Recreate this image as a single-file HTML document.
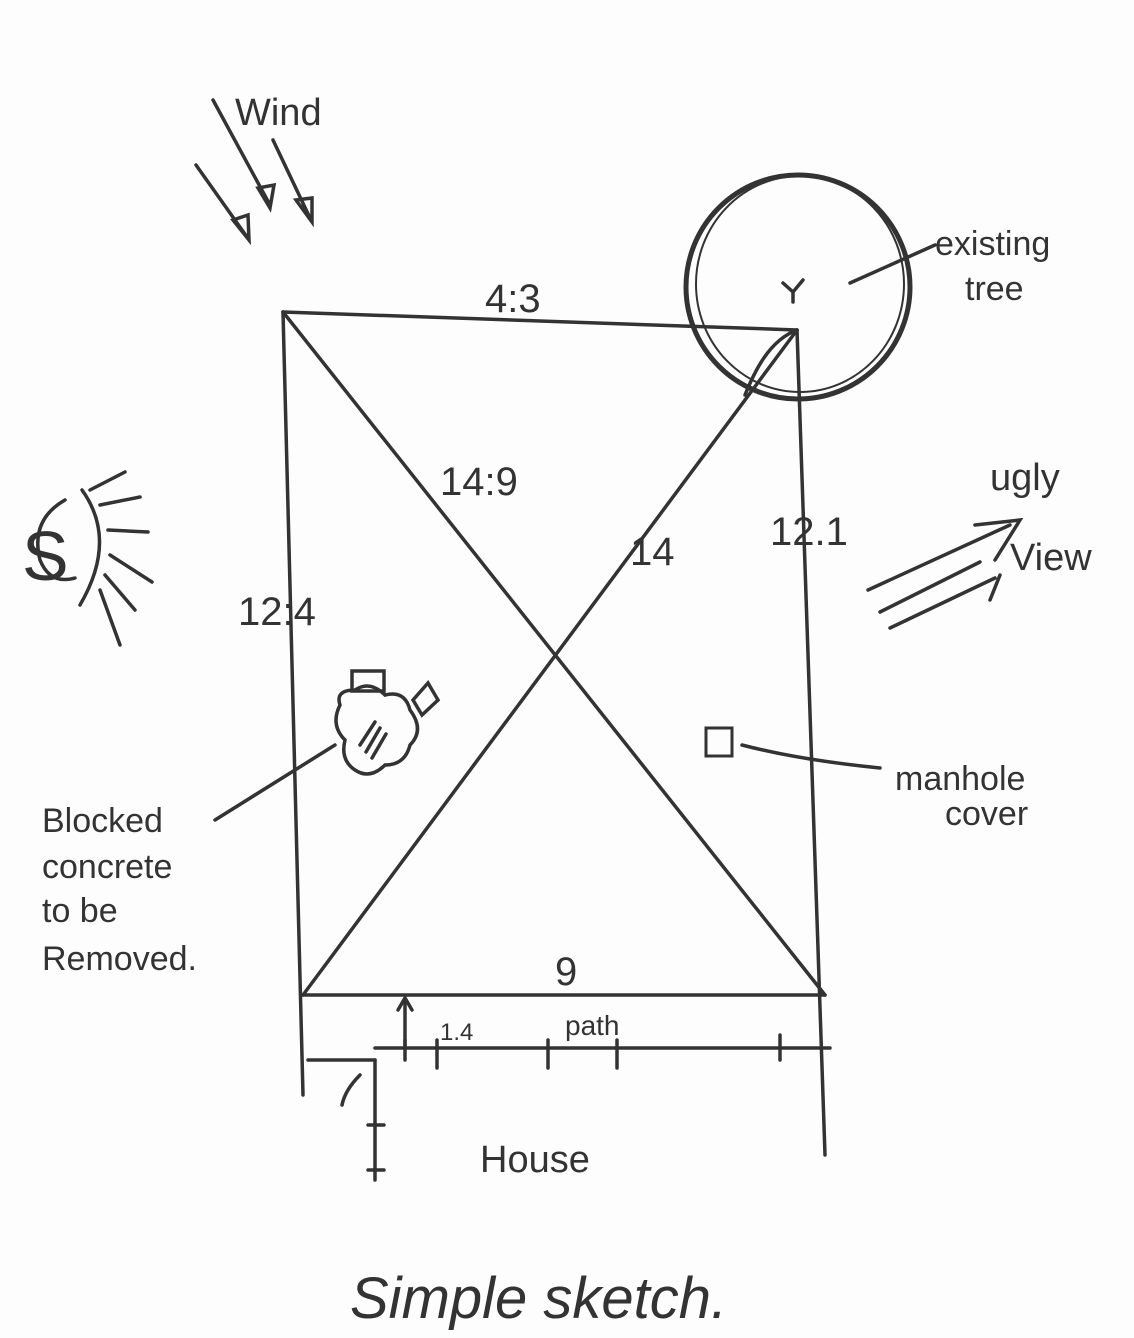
<!DOCTYPE html>
<html><head><meta charset="utf-8"><style>
html,body{margin:0;padding:0;background:#fff;}
svg{display:block}
.h{font-family:"Liberation Sans",sans-serif;fill:#333;}
</style></head><body>
<svg width="1134" height="1338" viewBox="0 0 1134 1338" xmlns="http://www.w3.org/2000/svg">
<rect width="1134" height="1338" fill="#fdfdfd"/>
<g stroke="#333" stroke-width="3.5" fill="none" stroke-linecap="round">
<!-- main rectangle -->
<path d="M283 312 L797 330"/>
<path d="M283 312 L303 1095"/>
<path d="M797 330 L825 1155"/>
<path d="M303 995 L825 995"/>
<path d="M283 312 L825 995"/>
<path d="M797 330 L303 995"/>
<path d="M797 330 C770 340 755 370 745 395"/>
<!-- path line -->
<path d="M375 1048 L830 1048"/>
<path d="M375 1060 L375 1180"/>
<path d="M308 1060 L375 1060"/>
<path d="M360 1075 Q345 1090 342 1105"/>
<path d="M405 1000 L405 1048"/>
<path d="M398 1010 L405 998 L412 1010"/>
<path d="M437 1040 L437 1068 M548 1040 L548 1068 M617 1040 L617 1068 M780 1035 L780 1060 M405 1040 L405 1060"/>
<path d="M368 1125 L384 1125 M368 1170 L384 1170"/>
<!-- tree -->
<ellipse cx="798" cy="287" rx="112" ry="112" stroke-width="5"/>
<ellipse cx="800" cy="284" rx="104" ry="108" stroke-width="2"/>
<path d="M783 283 L793 292 L803 280 M793 292 L793 302"/>
<path d="M850 283 L935 245"/>
<!-- wind -->
<path d="M213 100 L270 205 M258 188 L270 208 L274 185 Z"/>
<path d="M273 140 L310 218 M296 200 L312 222 L312 198 Z"/>
<path d="M196 165 L247 237 M233 220 L249 240 L248 215 Z"/>
<!-- sun -->
<path d="M65 500 Q30 520 40 560 Q50 585 75 578"/>
<path d="M82 490 Q118 540 80 605"/>
<path d="M90 490 L125 472 M100 505 L140 497 M108 530 L148 532 M110 555 L152 582 M105 575 L135 610 M100 590 L120 645"/>
<!-- ugly view arrows -->
<path d="M868 590 L1010 525 M880 612 L980 562 M890 628 L995 578 M975 525 L1020 520 L995 560 M990 600 L1000 575"/>
<!-- manhole -->
<rect x="706" y="728" width="26" height="28" stroke-width="3"/>
<path d="M742 745 Q800 760 880 768"/>
<!-- concrete -->
<path d="M340 705 Q335 690 355 690 Q370 680 385 695 Q405 690 410 710 Q425 730 410 745 Q405 765 385 765 Q370 780 355 770 Q340 760 345 740 Q330 725 340 705 Z"/>
<rect x="352" y="671" width="32" height="20"/>
<path d="M413 700 L428 683 L438 700 L422 715 Z"/>
<path d="M360 745 L375 722 M366 752 L380 728 M372 758 L386 734"/>
<path d="M335 745 L215 820"/>
</g>
<g class="h" font-size="40">
<text x="235" y="125" font-size="38">Wind</text>
<text x="485" y="312">4:3</text>
<text x="935" y="255" font-size="34">existing</text>
<text x="965" y="300" font-size="34">tree</text>
<text x="440" y="495">14:9</text>
<text x="630" y="565">14</text>
<text x="770" y="545">12.1</text>
<text x="238" y="625">12:4</text>
<text x="990" y="490" font-size="38">ugly</text>
<text x="1010" y="570" font-size="38">View</text>
<text x="22" y="580" font-size="70">S</text>
<text x="895" y="790" font-size="34">manhole</text>
<text x="945" y="825" font-size="34">cover</text>
<text x="42" y="832" font-size="34">Blocked</text>
<text x="42" y="878" font-size="34">concrete</text>
<text x="42" y="922" font-size="34">to be</text>
<text x="42" y="970" font-size="34">Removed.</text>
<text x="555" y="985">9</text>
<text x="565" y="1035" font-size="28">path</text>
<text x="440" y="1040" font-size="24">1.4</text>
<text x="480" y="1172" font-size="38">House</text>
</g>
<text x="350" y="1318" font-family="Liberation Sans,sans-serif" font-style="italic" font-size="58" fill="#333">Simple sketch.</text>
</svg>
</body></html>
